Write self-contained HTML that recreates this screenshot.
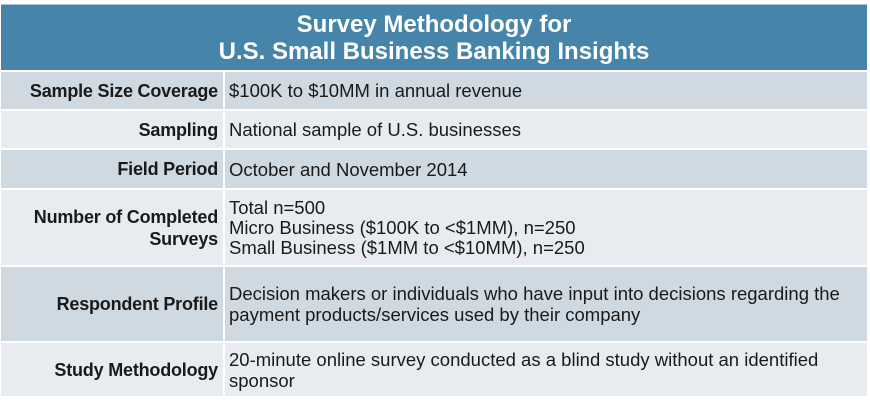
<!DOCTYPE html>
<html><head><style>
body{margin:0;width:870px;height:403px;background:#fff;font-family:"Liberation Sans",Arial,sans-serif;position:relative;overflow:hidden}
.hd{position:absolute;left:1px;top:4px;width:866px;height:66px;background:#4685a9;border-top:1px solid #a9c2d2;color:#fff;font-weight:bold;font-size:24px;text-align:center;line-height:27px;box-sizing:border-box;padding-top:6px}
.r{position:absolute;left:1px;width:866px;font-size:18.5px;color:#1a1a1a}
.d{background:#cfd9e1}.l{background:#e8ecf1}
.k{position:absolute;left:0;width:221px;top:0;bottom:0;text-align:right;font-weight:bold;font-size:18px;letter-spacing:-0.2px;display:flex;align-items:center;justify-content:flex-end;padding-right:4px;box-sizing:border-box;line-height:22px;white-space:nowrap}
.v{position:absolute;left:222px;right:0;top:0;bottom:0;border-left:2px solid #fff;padding-left:4px;display:flex;align-items:center;line-height:21px;padding-right:14px}
</style></head><body>
<div class="hd">Survey Methodology for<br>U.S. Small Business Banking Insights</div>
<div class="r d" style="top:72px;height:37px"><div class="k">Sample Size Coverage</div><div class="v">$100K to $10MM in annual revenue</div></div>
<div class="r l" style="top:111px;height:37px"><div class="k">Sampling</div><div class="v">National sample of U.S. businesses</div></div>
<div class="r d" style="top:150px;height:38px"><div class="k">Field Period</div><div class="v">October and November 2014</div></div>
<div class="r l" style="top:190px;height:75px"><div class="k">Number of Completed<br>Surveys</div><div class="v"><div style="line-height:20px">Total n=500<br>Micro Business ($100K to &lt;$1MM), n=250<br>Small Business ($1MM to &lt;$10MM), n=250</div></div></div>
<div class="r d" style="top:267px;height:74px"><div class="k">Respondent Profile</div><div class="v">Decision makers or individuals who have input into decisions regarding the payment products/services used by their company</div></div>
<div class="r l" style="top:343px;height:53px"><div class="k">Study Methodology</div><div class="v">20-minute online survey conducted as a blind study without an identified<br>sponsor</div></div>
</body></html>
